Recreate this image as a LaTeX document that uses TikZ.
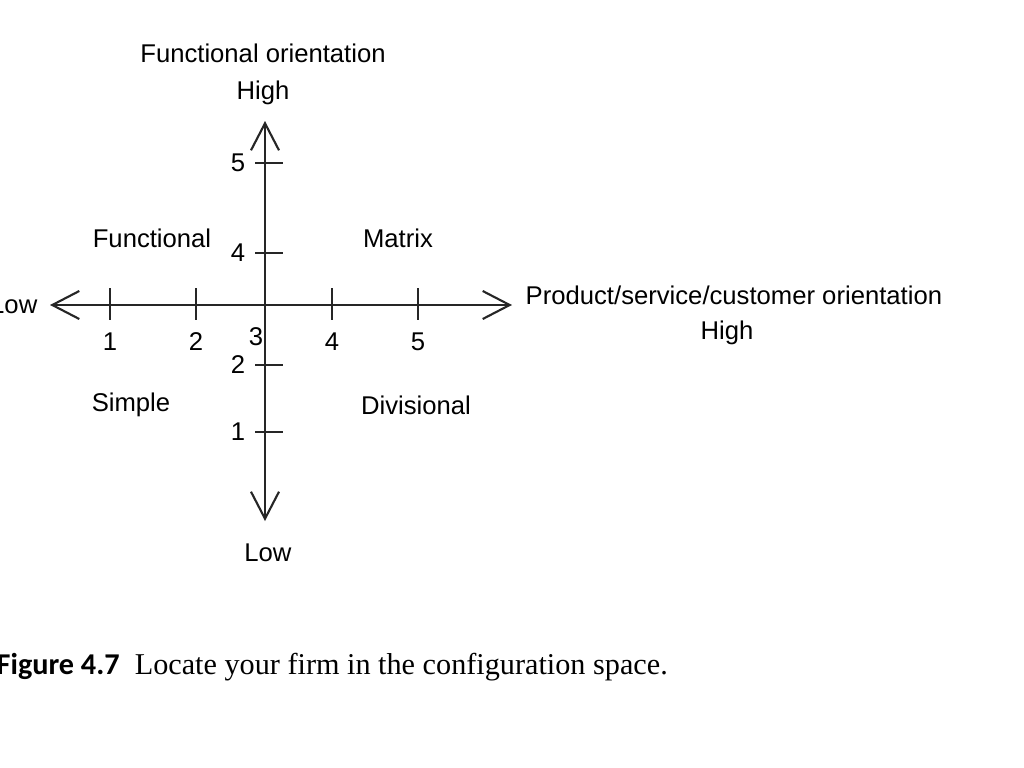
\documentclass[tikz,border=0pt]{standalone}
\usepackage{fontspec}
\setmainfont{Liberation Serif}
\setsansfont{Liberation Sans}
\newfontfamily\capfont{Carlito}
\usetikzlibrary{arrows.meta}

\begin{document}
\begin{tikzpicture}[
  x=0.1mm, y=-0.1mm,
  axis/.style={{Straight Barb[length=2.7mm, width=2.8mm]}-{Straight Barb[length=2.7mm, width=2.8mm]}, line width=0.6pt, black!85},
  tick/.style={line width=0.6pt, black!85},
  lbl/.style={font=\sffamily\fontsize{7.3}{8.5}\selectfont, inner sep=0pt, align=center},
  num/.style={lbl}
]
\useasboundingbox[fill=white] (0,0) rectangle (1024,767);

% axes
\coordinate (xlo) at (50,305);
\coordinate (xhi) at (512,305);
\coordinate (yhi) at (265,121);
\coordinate (ylo) at (265,521);
\draw[axis] (xlo) -- (xhi);
\draw[axis] (ylo) -- (yhi);

% ticks
\foreach \n/\x in {1/110,2/196,4/332,5/418} {
  \draw[tick] (\x,288) -- (\x,320);
  \node[num] (hx\n) at (\x,342) {\n};
}
\foreach \n/\y in {5/163,4/253,2/365,1/432} {
  \draw[tick] (255,\y) -- (283,\y);
  \node[num] (vy\n) at (238,\y) {\n};
}
\node[num] (hx3) at (256,337) {3};

% axis titles
\node[lbl] (ftitle) at (263,53) {Functional orientation};
\node[lbl] (fhigh) at (263,93) {High};
\node[lbl] (flow) at (268,553) {Low};
\node[lbl, anchor=east] (plow) at (38,305) {Low};
\node[lbl, anchor=west] (ptitle) at (525,295) {Product/service/customer orientation};
\node[lbl] (phigh) at (727,333) {High};

% quadrants
\node[lbl] (qfun) at (152,238) {Functional};
\node[lbl] (qmat) at (398,238) {Matrix};
\node[lbl] (qsim) at (131,405) {Simple};
\node[lbl] (qdiv) at (416,405) {Divisional};

% caption
\node[anchor=west, inner sep=0pt, font=\fontsize{8.6}{10}\selectfont] (cap) at (-4,667)
  {{\capfont\bfseries Figure 4.7}\hspace{0.5em}Locate your firm in the configuration space.};
\end{tikzpicture}
\end{document}
